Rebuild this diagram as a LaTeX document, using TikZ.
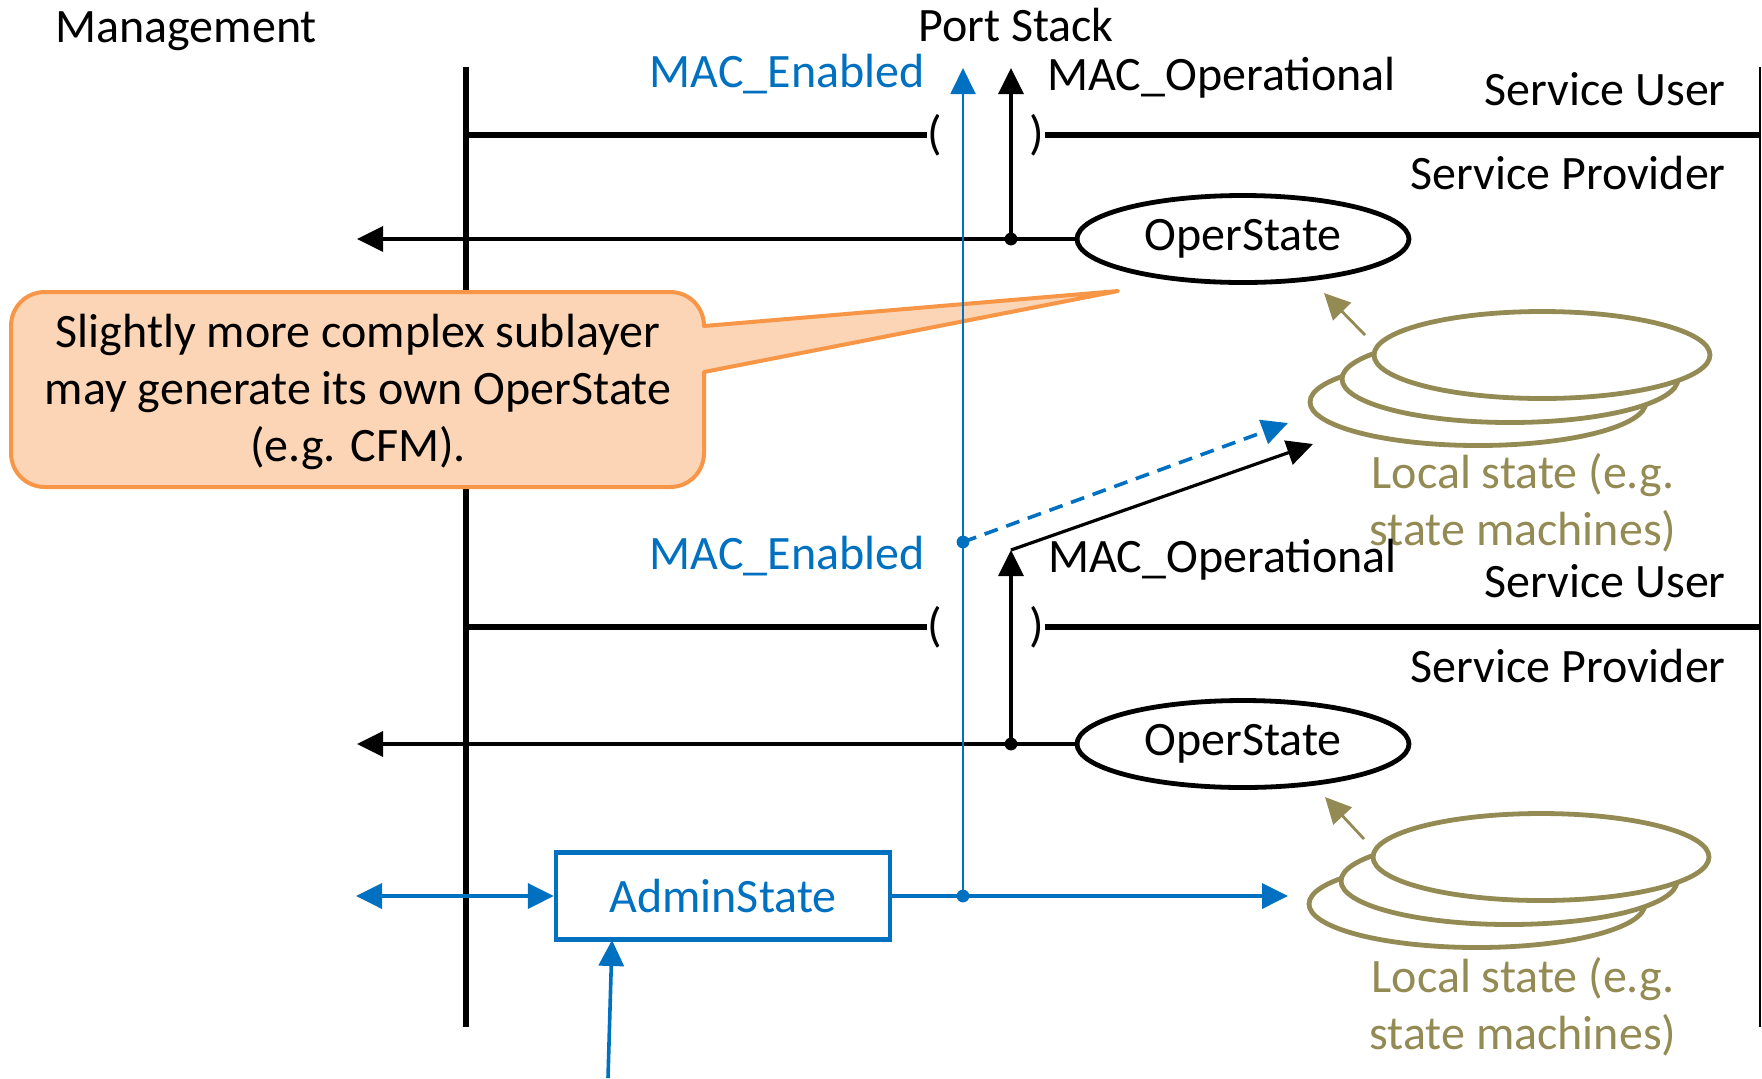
\documentclass[tikz,border=0pt]{standalone}
\usepackage{fontspec}
\setmainfont{Carlito}
\usetikzlibrary{arrows.meta,shapes.geometric}

\definecolor{macblue}{HTML}{0070C0}
\definecolor{noteline}{HTML}{F79646}
\definecolor{notefill}{HTML}{FBD5B5}
\definecolor{stategold}{HTML}{948A54}

\tikzset{
  lbl/.style={font=\fontsize{24}{28.3}\selectfont, inner sep=0pt},
  bar/.style={line width=2.6pt},
  wire/.style={line width=1.6pt},
  bluewire/.style={macblue,line width=1.8pt},
  pointy/.style={-{Triangle[length=13pt,width=12.5pt]}},
  oper/.style={ellipse, draw, line width=2.4pt, minimum width=166pt, minimum height=43.5pt, inner sep=0pt, lbl},
  disc/.style={ellipse, draw=stategold, fill=white, line width=2.4pt, minimum width=168pt, minimum height=43.5pt},
  admin/.style={rectangle, draw=macblue, text=macblue, line width=2.2pt, minimum width=167pt, minimum height=43.5pt, lbl},
  noteshape/.style={draw=noteline, fill=notefill, line width=2pt, line join=round}
}

\begin{document}
\begin{tikzpicture}[x=0.5pt,y=-0.5pt]
\useasboundingbox (0,0) rectangle (1762,1078);

\node[lbl,anchor=base west] (mgmt) at (55,42) {Management};
\node[lbl,anchor=base] (stack) at (1016,41) {Port Stack};

% management and right edge
\coordinate (mtop) at (466,67);
\coordinate (mbot) at (466,1027);
\coordinate (rtop) at (1760,67);
\coordinate (rbot) at (1760,1027);
\draw[bar] (mtop) -- (mbot);
\draw[line width=1pt] (rtop) -- (rbot);

% upper sublayer
\node[lbl,anchor=base east,text=macblue] (enA) at (925,87) {MAC\_Enabled};
\node[lbl,anchor=base west] (opA) at (1047,90) {MAC\_Operational};
\node[lbl,anchor=base east] (userA) at (1726,105) {Service User};
\node[lbl,anchor=base east] (provA) at (1726,189) {Service Provider};
\node[lbl] (lpA) at (935,135) {(};
\node[lbl] (rpA) at (1037,135) {)};
\draw[bar] (mtop |- lpA) -- (lpA);
\draw[bar] (rpA) -- (rtop |- rpA);
\node[oper] (osA) at (1243,239) {OperState};
\coordinate (dotA) at (1011,239);
\coordinate (upA) at (1011,68);
\coordinate (outA) at (357,239);
\draw[wire,pointy] (osA) -- (outA);
\draw[wire,pointy] (dotA) -- (upA);
\fill (dotA) circle (3.2pt);

\node[disc] (lsA3) at (1478,402) {};
\node[disc] (lsA2) at (1510,379) {};
\node[disc] (lsA1) at (1542,355) {};
\node[lbl,align=center,text=stategold] (lsTextA) at (1523,503) {Local state (e.g.\\state machines)};
\coordinate (stA) at (1365,335);
\coordinate (gA) at (1324,293);
\draw[stategold,line width=1.4pt,pointy] (stA) -- (gA);

% callout
\draw[noteshape] (45,292) -- (670,292) .. controls (689,292) and (704,307) .. (704,326)
  -- (1118,291) -- (704,372) -- (704,453) .. controls (704,472) and (689,487) .. (670,487)
  -- (45,487) .. controls (26,487) and (11,472) .. (11,453) -- (11,326)
  .. controls (11,307) and (26,292) .. (45,292) -- cycle;
\node[lbl,align=center] (note) at (358,392)
  {Slightly more complex sublayer\\may generate its own OperState\\(e.g. CFM).};

% between the sublayers
\coordinate (enDot) at (963,542);
\coordinate (dashEnd) at (1288,423);
\coordinate (opEnd) at (1313,444);
\draw[macblue,line width=1.8pt,dash pattern=on 7pt off 4.5pt,pointy] (enDot) -- (dashEnd);
\fill[macblue] (enDot) circle (3.2pt);

% lower sublayer
\node[lbl,anchor=base east,text=macblue] (enB) at (925,569) {MAC\_Enabled};
\node[lbl,anchor=base west] (opB) at (1048,572) {MAC\_Operational};
\node[lbl,anchor=base east] (userB) at (1726,597) {Service User};
\node[lbl,anchor=base east] (provB) at (1726,682) {Service Provider};
\node[lbl] (lpB) at (935,627) {(};
\node[lbl] (rpB) at (1037,627) {)};
\draw[bar] (mtop |- lpB) -- (lpB);
\draw[bar] (rpB) -- (rtop |- rpB);
\node[oper] (osB) at (1243,744) {OperState};
\coordinate (dotB) at (1011,744);
\coordinate (upB) at (1011,550);
\coordinate (outB) at (357,744);
\draw[wire,pointy] (osB) -- (outB);
\draw[wire,pointy] (dotB) -- (upB);
\fill (dotB) circle (3.2pt);
\draw[wire,pointy] (upB) -- (opEnd);

\node[disc] (lsB3) at (1477,904) {};
\node[disc] (lsB2) at (1509,881) {};
\node[disc] (lsB1) at (1541,857) {};
\node[lbl,align=center,text=stategold] (lsTextB) at (1523,1007) {Local state (e.g.\\state machines)};
\coordinate (stB) at (1364,839);
\coordinate (gB) at (1325,797);
\draw[stategold,line width=1.4pt,pointy] (stB) -- (gB);

% admin state
\node[admin] (admin) at (723,896) {AdminState};
\coordinate (mgmtIn) at (356,896);
\coordinate (junc) at (963,896);
\coordinate (enTop) at (963,68);
\coordinate (toLocal) at (1288,896);
\coordinate (cfg) at (608,1078);
\coordinate (cfgIn) at (612,940);
\draw[bluewire,{Triangle[length=13pt,width=12.5pt]}-{Triangle[length=13pt,width=12.5pt]}] (mgmtIn) -- (admin);
\draw[macblue,line width=1pt,pointy] (junc) -- (enTop);
\draw[bluewire,pointy] (admin) -- (toLocal);
\fill[macblue] (junc) circle (3.2pt);
\draw[bluewire,pointy] (cfg) -- (cfgIn);
\end{tikzpicture}
\end{document}
